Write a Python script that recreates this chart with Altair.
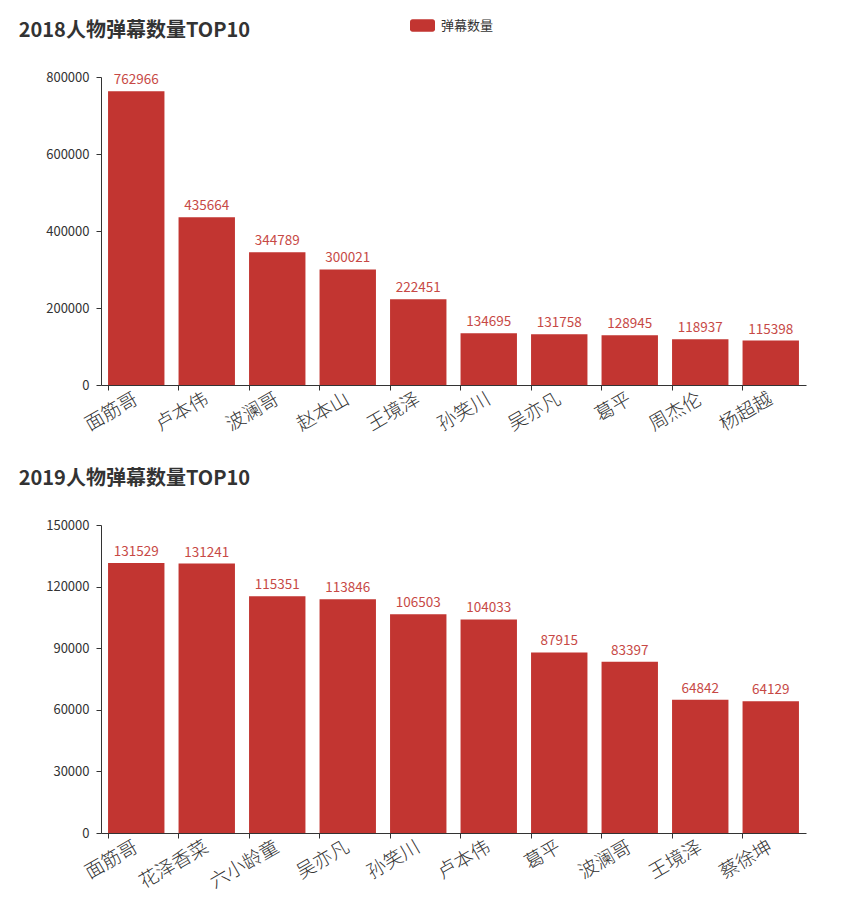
import altair as alt
import pandas as pd

FONT = "Noto Sans CJK SC"
RED = "#c23531"

names_2018 = ["面筋哥", "卢本伟", "波澜哥", "赵本山", "王境泽", "孙笑川", "吴亦凡", "葛平", "周杰伦", "杨超越"]
values_2018 = [762966, 435664, 344789, 300021, 222451, 134695, 131758, 128945, 118937, 115398]

names_2019 = ["面筋哥", "花泽香菜", "六小龄童", "吴亦凡", "孙笑川", "卢本伟", "葛平", "波澜哥", "王境泽", "蔡徐坤"]
values_2019 = [131529, 131241, 115351, 113846, 106503, 104033, 87915, 83397, 64842, 64129]

series_name = "弹幕数量"
ticks_2018 = [0, 200000, 400000, 600000, 800000]
ticks_2019 = [0, 30000, 60000, 90000, 120000, 150000]

LEGEND_SHAPE = ("M-0.8,-0.5H0.8A0.2,0.2 0 0 1 1,-0.3V0.3A0.2,0.2 0 0 1 0.8,0.5"
                "H-0.8A0.2,0.2 0 0 1 -1,0.3V-0.3A0.2,0.2 0 0 1 -0.8,-0.5Z")


def panel(title, names, values, ticks):
    df = pd.DataFrame({"name": names, "value": values, "series": [series_name] * len(names)})
    x = alt.X("name:N", sort=None, title=None,
              scale=alt.Scale(paddingInner=0.2, paddingOuter=0.1),
              axis=alt.Axis(labelAngle=-30, labelAlign="right", labelBaseline="middle",
                            labelFontSize=19, labelColor="#333", labelFont=FONT,
                            labelFontWeight=300,
                            labelPadding=7, tickSize=5, tickColor="#333",
                            domainColor="#333", bandPosition=0, labelOverlap=False))
    y = alt.Y("value:Q", title=None,
              scale=alt.Scale(domain=[ticks[0], ticks[-1]], nice=False),
              axis=alt.Axis(values=ticks, grid=False, labelFontSize=13, labelColor="#333",
                            labelFont=FONT, tickSize=5, tickColor="#333", domainColor="#333",
                            labelPadding=7, format="d"))
    bars = alt.Chart(df).mark_bar(color=RED).encode(
        x=x, y=y,
        color=alt.Color("series:N", scale=alt.Scale(range=[RED]),
                        legend=alt.Legend(orient="none", legendX=309, legendY=-64, title=None,
                                          symbolType=LEGEND_SHAPE, symbolSize=625,
                                          symbolStrokeWidth=0, symbolOpacity=1,
                                          labelFontSize=13, labelColor="#333", labelFont=FONT,
                                          labelOffset=6)),
    )
    labels = alt.Chart(df).mark_text(baseline="bottom", dy=-4, fontSize=13.5, color=RED,
                                      font=FONT, opacity=0.9).encode(
        x=alt.X("name:N", sort=None),
        y=alt.Y("value:Q"),
        text=alt.Text("value:Q", format="d"),
    )
    return alt.layer(bars, labels).properties(
        width=705, height=308,
        title=alt.TitleParams(title, anchor="start", dx=-27, fontSize=20, fontWeight="bold",
                              color="#333", font=FONT, offset=30),
    )


chart = alt.vconcat(
    panel("2018人物弹幕数量TOP10", names_2018, values_2018, ticks_2018),
    panel("2019人物弹幕数量TOP10", names_2019, values_2019, ticks_2019),
    spacing=34,
).properties(
    padding={"left": 10, "top": 5, "right": 5, "bottom": 5},
    background="white",
).configure_view(stroke=None)

chart.save("out.html", embed_options={"renderer": "svg", "actions": False})
